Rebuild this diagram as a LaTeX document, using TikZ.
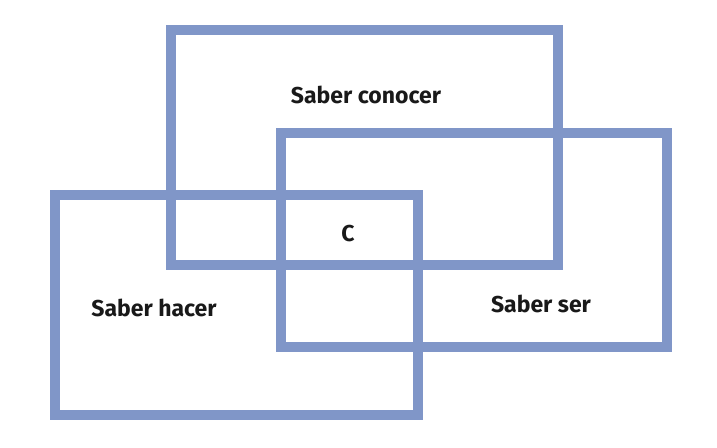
\documentclass[tikz,border=0pt]{standalone}
\usepackage{fontspec}
\setmainfont{Fira Sans}
\definecolor{boxblue}{RGB}{128,150,200}
\tikzset{every picture/.style={line width=10pt}}
\tikzset{areabox/.style={draw=boxblue, line width=10pt},
         arealabel/.style={font=\bfseries\fontsize{23}{27}\selectfont, text=black!90, inner sep=0pt}}
\begin{document}
\begin{tikzpicture}[x=1pt,y=1pt,yscale=-1,xscale=1]
        \useasboundingbox (0,0) rectangle (717,447);
        
        %Shape: Rectangle saber conocer
        \draw [areabox]   (171,30) -- (558,30) -- (558,265) -- (171,265) -- cycle ;
        %Shape: Rectangle saber ser
        \draw [areabox]   (281,133) -- (667,133) -- (667,347) -- (281,347) -- cycle ;
        %Shape: Rectangle saber hacer
        \draw [areabox]   (55,195) -- (418,195) -- (418,415) -- (55,415) -- cycle ;
        
        % Text Node
        \node [arealabel] (conocer) at (366,95) {Saber conocer};
        % Text Node
        \node [arealabel] (centro) at (348,234) {C};
        % Text Node
        \node [arealabel] (hacer) at (154,308) {Saber hacer};
        % Text Node
        \node [arealabel] (ser) at (541,304) {Saber ser};
        
\end{tikzpicture}
\end{document}
